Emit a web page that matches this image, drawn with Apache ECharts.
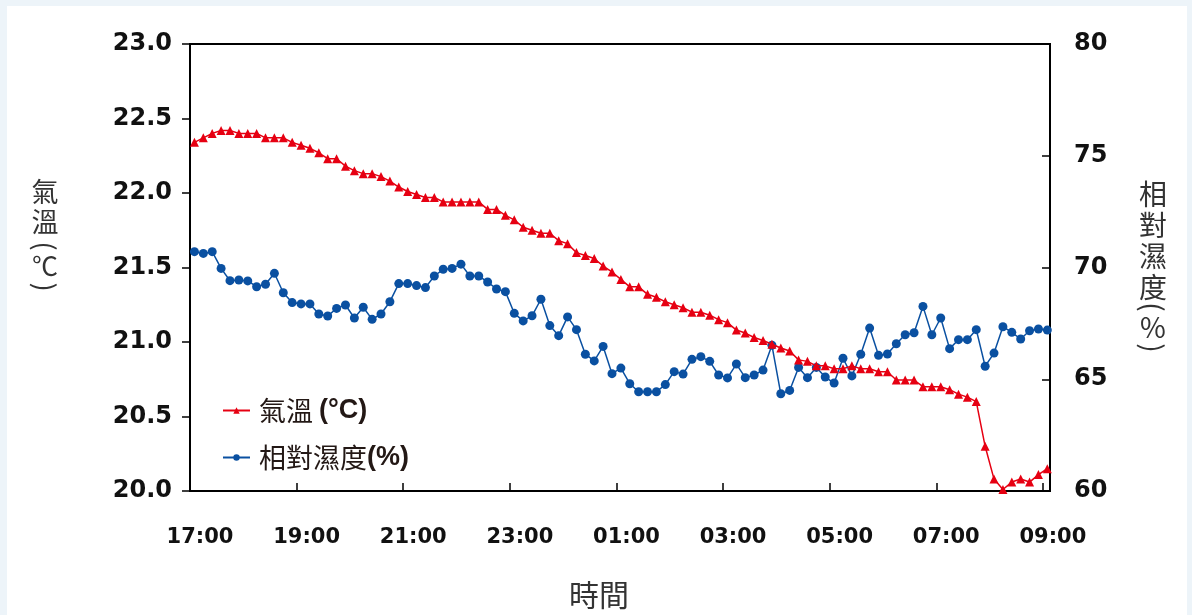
<!DOCTYPE html>
<html>
<head>
<meta charset="utf-8">
<script src="https://cdn.jsdelivr.net/npm/echarts@6/dist/echarts.min.js"></script>
<style>
  html, body { margin: 0; padding: 0; background: #edf4f9; }
  #panel { position: absolute; left: 7px; top: 6px; width: 1180px; height: 609px; background: #ffffff; }
  #chart { position: absolute; left: 0; top: 0; width: 1192px; height: 615px; }
</style>
</head>
<body>
<div id="panel"></div>
<div id="chart"></div>
<script>
// Tick labels for the time axis (every 2 hours from 17:00)
const timeTickLabels = ['17:00', '19:00', '21:00', '23:00', '01:00', '03:00', '05:00', '07:00', '09:00'];

// Air temperature (°C), one reading every 10 minutes starting 17:05
const temperature = [
  22.34, 22.37, 22.40, 22.42, 22.42, 22.40, 22.40, 22.40, 22.37, 22.37,
  22.37, 22.34, 22.32, 22.30, 22.27, 22.23, 22.23, 22.18, 22.15, 22.13,
  22.13, 22.11, 22.08, 22.04, 22.01, 21.99, 21.97, 21.97, 21.94, 21.94,
  21.94, 21.94, 21.94, 21.89, 21.89, 21.85, 21.82, 21.77, 21.75, 21.73,
  21.73, 21.68, 21.66, 21.60, 21.58, 21.56, 21.51, 21.47, 21.42, 21.37,
  21.37, 21.32, 21.30, 21.27, 21.25, 21.23, 21.20, 21.20, 21.18, 21.15,
  21.13, 21.08, 21.06, 21.03, 21.01, 20.985, 20.96, 20.94, 20.88, 20.87,
  20.84, 20.84, 20.82, 20.82, 20.84, 20.82, 20.82, 20.80, 20.80, 20.745,
  20.745, 20.745, 20.70, 20.70, 20.70, 20.68, 20.65, 20.63, 20.60, 20.30,
  20.08, 20.01, 20.06, 20.08, 20.06, 20.11, 20.15
];

// Relative humidity (%), same timestamps
const humidity = [
  70.71, 70.63, 70.71, 69.96, 69.41, 69.44, 69.40, 69.14, 69.25, 69.74,
  68.87, 68.43, 68.37, 68.37, 67.92, 67.83, 68.17, 68.32, 67.74, 68.22,
  67.68, 67.92, 68.47, 69.28, 69.28, 69.19, 69.10, 69.62, 69.92, 69.96,
  70.15, 69.62, 69.62, 69.35, 69.04, 68.92, 67.95, 67.61, 67.84, 68.58,
  67.40, 66.95, 67.79, 67.22, 66.12, 65.82, 66.47, 65.25, 65.50, 64.80,
  64.44, 64.44, 64.44, 64.76, 65.34, 65.23, 65.89, 66.01, 65.80, 65.19,
  65.06, 65.68, 65.07, 65.19, 65.41, 66.52, 64.35, 64.50, 65.53, 65.07,
  65.53, 65.10, 64.83, 65.94, 65.15, 66.12, 67.29, 66.07, 66.13, 66.59,
  66.99, 67.08, 68.26, 66.99, 67.74, 66.37, 66.77, 66.77, 67.22, 65.58,
  66.17, 67.35, 67.10, 66.80, 67.17, 67.25, 67.20
];

// Sampling: minutes after 17:00 for each reading
const firstMinute = 5;
const stepMinutes = 10;
const minutes = temperature.map((_, i) => firstMinute + stepMinutes * i);

const tempSeriesName = '氣溫 (°C)';
const humSeriesName = '相對濕度 (%)';

const numFont = '"DejaVu Sans", "Liberation Sans", Arial, sans-serif';
const legFont = '"Liberation Sans", Arial, sans-serif';
const cjkFont = '"Noto Sans CJK TC", "Noto Sans CJK SC", sans-serif';
const nameColor = '#333';

const chart = echarts.init(document.getElementById('chart'), null, { renderer: 'canvas' });

function vText(x, y, ch, size, rot) {
  return {
    type: 'text', x: x, y: y, rotation: rot || 0,
    style: { text: ch, fontFamily: cjkFont, fontSize: size, fill: nameColor, align: 'center', verticalAlign: 'middle' }
  };
}
const CW = -Math.PI / 2;

const option = {
  backgroundColor: 'transparent',
  animation: false,
  grid: {
    left: 190, right: 142, top: 44, bottom: 124,
    show: true, borderColor: '#000', borderWidth: 2, backgroundColor: 'transparent'
  },
  legend: {
    orient: 'vertical',
    left: 217, top: 392,
    itemWidth: 27, itemHeight: 8, itemGap: 20,
    data: [tempSeriesName, humSeriesName],
    formatter: function (name) {
      return name === tempSeriesName ? '{c|氣溫 }{e|(°C)}' : '{c|相對濕度}{e|(%)}';
    },
    textStyle: {
      rich: {
        c: { fontFamily: cjkFont, fontSize: 27, color: '#231815', padding: [0, 0, 0, 4] },
        e: { fontFamily: legFont, fontWeight: 'bold', fontSize: 27, color: '#231815' }
      }
    }
  },
  xAxis: {
    type: 'value', min: 0, max: 968, interval: 120,
    axisLine: { show: true, lineStyle: { color: '#000', width: 2 } },
    axisTick: { show: true, inside: true, length: 8, lineStyle: { color: '#000', width: 1.5 } },
    splitLine: { show: false },
    axisLabel: {
      margin: 36, showMaxLabel: false,
      fontFamily: numFont, fontWeight: 'bold', fontSize: 21, color: '#111',
      padding: [0, 0, 0, 20],
      formatter: function (v) {
        const idx = Math.round(v / 120);
        return (v % 120 === 0 && idx < timeTickLabels.length) ? timeTickLabels[idx] : '';
      }
    }
  },
  yAxis: [
    {
      type: 'value', min: 20, max: 23, interval: 0.5, position: 'left',
      axisLine: { show: true, lineStyle: { color: '#000', width: 2 } },
      axisTick: { show: true, inside: false, length: 8, lineStyle: { color: '#000', width: 1.5 } },
      splitLine: { show: false },
      axisLabel: {
        margin: 18, fontFamily: numFont, fontWeight: 'bold', fontSize: 24, color: '#111',
        formatter: v => v.toFixed(1)
      }
    },
    {
      type: 'value', min: 60, max: 80, interval: 5, position: 'right',
      axisLine: { show: true, lineStyle: { color: '#000', width: 2 } },
      axisTick: { show: true, inside: true, length: 8, lineStyle: { color: '#000', width: 1.5 } },
      splitLine: { show: false },
      axisLabel: {
        margin: 24, fontFamily: numFont, fontWeight: 'bold', fontSize: 24, color: '#111'
      }
    }
  ],
  graphic: [
    vText(45, 192, '氣', 27),
    vText(45, 222, '溫', 27),
    vText(45, 246, '(', 27, CW),
    vText(45, 266, '℃', 26),
    vText(45, 287, ')', 27, CW),
    vText(1153, 194, '相', 28),
    vText(1153, 225, '對', 28),
    vText(1153, 256, '濕', 28),
    vText(1153, 287, '度', 28),
    vText(1153, 307, '(', 28, CW),
    vText(1153, 327, '%', 28),
    vText(1153, 348, ')', 28, CW),
    {
      type: 'text', x: 599, y: 595,
      style: { text: '時間', fontFamily: cjkFont, fontSize: 30, fill: nameColor, align: 'center', verticalAlign: 'middle' }
    }
  ],
  series: [
    {
      name: tempSeriesName, type: 'line', yAxisIndex: 0,
      data: temperature.map((v, i) => [minutes[i], v]),
      symbol: 'triangle', symbolSize: 9, showAllSymbol: true,
      lineStyle: { color: '#e60012', width: 1.5 },
      itemStyle: { color: '#e60012' },
      z: 3
    },
    {
      name: humSeriesName, type: 'line', yAxisIndex: 1,
      data: humidity.map((v, i) => [minutes[i], v]),
      symbol: 'circle', symbolSize: 9, showAllSymbol: true,
      lineStyle: { color: '#0a50a1', width: 1.5 },
      itemStyle: { color: '#0a50a1' },
      z: 2
    }
  ]
};

chart.setOption(option);
</script>
</body>
</html>
